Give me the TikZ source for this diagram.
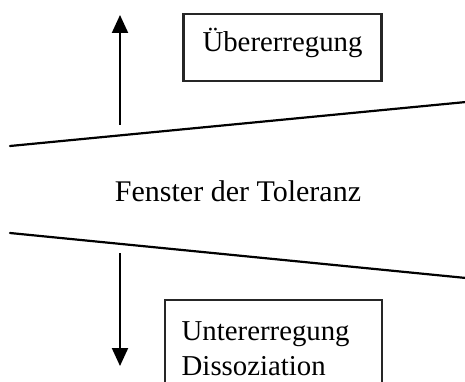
\documentclass[tikz,border=0pt]{standalone}
\usepackage{fontspec}
\setmainfont{Liberation Serif}
\usetikzlibrary{arrows.meta}
\begin{document}
\begin{tikzpicture}[x=1pt,y=1pt,
  every node/.style={font=\fontsize{28.8}{34}\selectfont, inner sep=0pt},
  framebox/.style={draw=black!85, line width=2.3pt},
  bound/.style={line width=2.2pt, line cap=round},
  flow/.style={line width=2.1pt, -{Triangle[length=18pt,width=16pt]}}]
\useasboundingbox (0,0) rectangle (465,-382);

% window boundaries
\coordinate (upL) at (10,-146);
\coordinate (upR) at (466,-102);
\coordinate (loL) at (10,-233);
\coordinate (loR) at (466,-278);
\draw[bound] (upL) -- (upR);
\draw[bound] (loL) -- (loR);

% over-excitation
\node[framebox, minimum width=198pt, minimum height=67pt,
      text height=20pt, text depth=11pt] (over) at (282.5,-47.5) {Übererregung};
\coordinate (upS) at (120,-125);
\coordinate (upE) at (120,-15);
\draw[flow] (upS) -- (upE);

% window label
\node[anchor=base, font=\fontsize{30}{36}\selectfont] (window) at (238,-201.5) {Fenster der Toleranz};

% under-excitation
\begin{scope}
\clip (0,0) rectangle (465,-382);
\node[framebox, anchor=north west, minimum width=217pt, minimum height=120pt] (under) at (163.5,-298.5) {};
\end{scope}
\node[anchor=base west] (undera) at (181.5,-340) {Untererregung};
\node[anchor=base west] (underb) at (181.5,-375) {Dissoziation};
\coordinate (loS) at (120,-253);
\coordinate (loE) at (120,-366);
\draw[flow] (loS) -- (loE);
\end{tikzpicture}
\end{document}
